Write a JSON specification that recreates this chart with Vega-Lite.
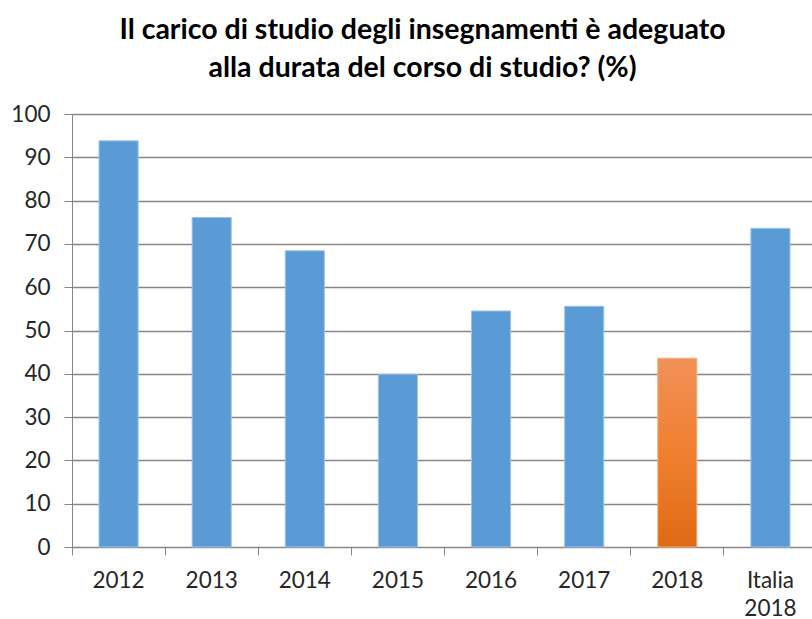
{
  "$schema": "https://vega.github.io/schema/vega-lite/v6.json",
  "width": 745,
  "height": 433,
  "autosize": "none",
  "padding": {"left": 72, "top": 114, "right": 0, "bottom": 72},
  "background": "white",
  "title": {
    "text": ["Il carico  di studio degli insegnamenti è adeguato", "alla durata del corso di studio? (%)"],
    "font": "Lato",
    "fontSize": 28.5,
    "fontWeight": "bold",
    "color": "#000000",
    "anchor": "middle",
    "dx": -22,
    "offset": 21,
    "lineHeight": 38
  },
  "data": {
    "values": [
      {"anno": "2012", "valore": 93.8, "tipo": "storico"},
      {"anno": "2013", "valore": 76.1, "tipo": "storico"},
      {"anno": "2014", "valore": 68.4, "tipo": "storico"},
      {"anno": "2015", "valore": 39.9, "tipo": "storico"},
      {"anno": "2016", "valore": 54.5, "tipo": "storico"},
      {"anno": "2017", "valore": 55.6, "tipo": "storico"},
      {"anno": "2018", "valore": 43.6, "tipo": "attuale"},
      {"anno": "Italia 2018", "valore": 73.6, "tipo": "storico"}
    ]
  },
  "encoding": {
    "x": {
      "field": "anno",
      "type": "nominal",
      "sort": ["2012", "2013", "2014", "2015", "2016", "2017", "2018", "Italia 2018"],
      "scale": {"paddingInner": 0.58, "paddingOuter": 0.29},
      "axis": {
        "title": null,
        "labelAngle": 0,
        "labelFont": "Lato",
        "labelFontSize": 22.5,
        "labelColor": "#262626",
        "labelPadding": 14,
        "labelExpr": "datum.value == 'Italia 2018' ? ['Italia', '2018'] : datum.value",
        "labelLineHeight": 28,
        "bandPosition": -0.69,
        "tickSize": 8,
        "tickColor": "#868686",
        "domainColor": "#868686",
        "grid": false
      }
    },
    "y": {
      "field": "valore",
      "type": "quantitative",
      "scale": {"domain": [0, 100]},
      "axis": {
        "title": null,
        "values": [0, 10, 20, 30, 40, 50, 60, 70, 80, 90, 100],
        "labelFont": "Lato",
        "labelFontSize": 22.5,
        "labelColor": "#262626",
        "labelPadding": 14,
        "tickSize": 8,
        "tickColor": "#868686",
        "domainColor": "#868686",
        "gridColor": "#868686",
        "gridWidth": 1.5
      }
    }
  },
  "layer": [
    {
      "transform": [{"filter": "datum.tipo == 'storico'"}],
      "mark": {"type": "bar", "color": "#5B9BD5", "stroke": "#9DC3E6", "strokeWidth": 1}
    },
    {
      "transform": [{"filter": "datum.tipo == 'attuale'"}],
      "mark": {
        "type": "bar",
        "stroke": "#F4B183",
        "strokeWidth": 1,
        "color": {
          "gradient": "linear",
          "x1": 0, "y1": 0, "x2": 0, "y2": 1,
          "stops": [
            {"offset": 0, "color": "#F19158"},
            {"offset": 0.5, "color": "#F07F30"},
            {"offset": 1, "color": "#E06A14"}
          ]
        }
      }
    }
  ],
  "config": {"view": {"stroke": null}}
}
